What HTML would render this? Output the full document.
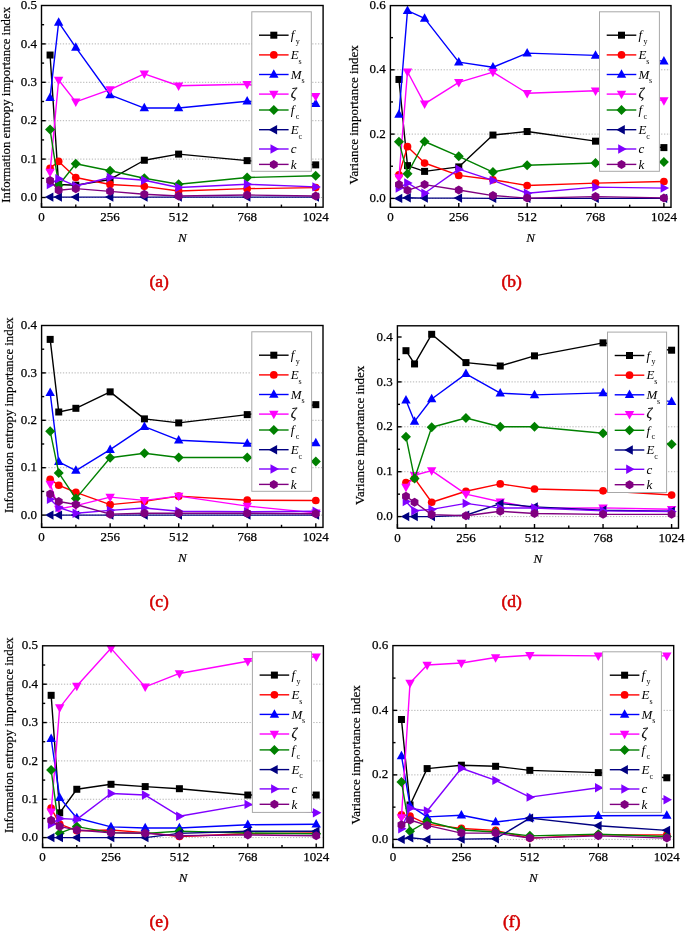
<!DOCTYPE html>
<html><head><meta charset="utf-8"><title>Importance index vs N</title>
<style>
html,body{margin:0;padding:0;background:#fff;}
svg{display:block;filter:blur(0.3px);}
text{font-family:"Liberation Serif",serif;fill:#000;}
.g{stroke:#b4b4b4;stroke-width:1;stroke-dasharray:1.3 1.6;}
.t{stroke:#000;stroke-width:1.4;}
.tl{font-size:13px;stroke:#000;stroke-width:0.25px;}
.xt{font-size:13px;font-style:italic;stroke:#000;stroke-width:0.2px;}
.yt{font-size:13px;stroke:#000;stroke-width:0.2px;}
.yi{font-size:12.8px;}
.lg{font-size:13px;font-style:italic;}
.lz{font-size:14px;font-style:italic;stroke:#000;stroke-width:0.2px;}
.ls{font-size:8px;}
.cap{font-size:17.5px;fill:#d40000;stroke:#d40000;stroke-width:0.55px;}
</style></head>
<body>
<svg width="685" height="932" viewBox="0 0 685 932">
<rect width="685" height="932" fill="#fff"/>
<line x1="42.5" y1="197.5" x2="322.1" y2="197.5" class="g"/>
<line x1="42.5" y1="159.1" x2="322.1" y2="159.1" class="g"/>
<line x1="42.5" y1="120.7" x2="322.1" y2="120.7" class="g"/>
<line x1="42.5" y1="82.3" x2="322.1" y2="82.3" class="g"/>
<line x1="42.5" y1="43.9" x2="322.1" y2="43.9" class="g"/>
<polyline points="50.07,55.04 58.64,184.44 75.78,185.21 110.05,179.45 144.32,160.25 178.6,154.11 247.15,160.64 315.7,164.86" fill="none" stroke="#000000" stroke-width="1.4" stroke-linejoin="round"/>
<rect x="46.57" y="51.54" width="7" height="7" fill="#000000"/>
<rect x="55.14" y="180.94" width="7" height="7" fill="#000000"/>
<rect x="72.28" y="181.71" width="7" height="7" fill="#000000"/>
<rect x="106.55" y="175.95" width="7" height="7" fill="#000000"/>
<rect x="140.82" y="156.75" width="7" height="7" fill="#000000"/>
<rect x="175.1" y="150.61" width="7" height="7" fill="#000000"/>
<rect x="243.65" y="157.14" width="7" height="7" fill="#000000"/>
<rect x="312.2" y="161.36" width="7" height="7" fill="#000000"/>
<polyline points="50.07,168.32 58.64,161.4 75.78,177.53 110.05,184.44 144.32,186.36 178.6,190.97 247.15,188.67 315.7,187.59" fill="none" stroke="#ff0000" stroke-width="1.4" stroke-linejoin="round"/>
<circle cx="50.07" cy="168.32" r="3.85" fill="#ff0000"/>
<circle cx="58.64" cy="161.4" r="3.85" fill="#ff0000"/>
<circle cx="75.78" cy="177.53" r="3.85" fill="#ff0000"/>
<circle cx="110.05" cy="184.44" r="3.85" fill="#ff0000"/>
<circle cx="144.32" cy="186.36" r="3.85" fill="#ff0000"/>
<circle cx="178.6" cy="190.97" r="3.85" fill="#ff0000"/>
<circle cx="247.15" cy="188.67" r="3.85" fill="#ff0000"/>
<circle cx="315.7" cy="187.59" r="3.85" fill="#ff0000"/>
<polyline points="50.07,97.66 58.64,22.4 75.78,47.36 110.05,94.97 144.32,108.03 178.6,108.03 247.15,101.31 315.7,103.8" fill="none" stroke="#0000ff" stroke-width="1.4" stroke-linejoin="round"/>
<polygon points="50.07,92.46 54.77,100.96 45.37,100.96" fill="#0000ff"/>
<polygon points="58.64,17.2 63.34,25.7 53.94,25.7" fill="#0000ff"/>
<polygon points="75.78,42.16 80.48,50.66 71.08,50.66" fill="#0000ff"/>
<polygon points="110.05,89.77 114.75,98.27 105.35,98.27" fill="#0000ff"/>
<polygon points="144.32,102.83 149.02,111.33 139.62,111.33" fill="#0000ff"/>
<polygon points="178.6,102.83 183.3,111.33 173.9,111.33" fill="#0000ff"/>
<polygon points="247.15,96.11 251.85,104.61 242.45,104.61" fill="#0000ff"/>
<polygon points="315.7,98.6 320.4,107.1 311,107.1" fill="#0000ff"/>
<polyline points="50.07,172.16 58.64,80 75.78,101.88 110.05,89.6 144.32,73.85 178.6,85.76 247.15,84.22 315.7,96.32" fill="none" stroke="#ff00ff" stroke-width="1.4" stroke-linejoin="round"/>
<polygon points="50.07,177.36 54.77,168.86 45.37,168.86" fill="#ff00ff"/>
<polygon points="58.64,85.2 63.34,76.7 53.94,76.7" fill="#ff00ff"/>
<polygon points="75.78,107.08 80.48,98.58 71.08,98.58" fill="#ff00ff"/>
<polygon points="110.05,94.8 114.75,86.3 105.35,86.3" fill="#ff00ff"/>
<polygon points="144.32,79.05 149.02,70.55 139.62,70.55" fill="#ff00ff"/>
<polygon points="178.6,90.96 183.3,82.46 173.9,82.46" fill="#ff00ff"/>
<polygon points="247.15,89.42 251.85,80.92 242.45,80.92" fill="#ff00ff"/>
<polygon points="315.7,101.52 320.4,93.02 311,93.02" fill="#ff00ff"/>
<polyline points="50.07,129.53 58.64,185.21 75.78,163.71 110.05,170.81 144.32,178.3 178.6,184.21 247.15,177.53 315.7,175.8" fill="none" stroke="#008000" stroke-width="1.4" stroke-linejoin="round"/>
<polygon points="50.07,124.53 55.07,129.53 50.07,134.53 45.07,129.53" fill="#008000"/>
<polygon points="58.64,180.21 63.64,185.21 58.64,190.21 53.64,185.21" fill="#008000"/>
<polygon points="75.78,158.71 80.78,163.71 75.78,168.71 70.78,163.71" fill="#008000"/>
<polygon points="110.05,165.81 115.05,170.81 110.05,175.81 105.05,170.81" fill="#008000"/>
<polygon points="144.32,173.3 149.32,178.3 144.32,183.3 139.32,178.3" fill="#008000"/>
<polygon points="178.6,179.21 183.6,184.21 178.6,189.21 173.6,184.21" fill="#008000"/>
<polygon points="247.15,172.53 252.15,177.53 247.15,182.53 242.15,177.53" fill="#008000"/>
<polygon points="315.7,170.8 320.7,175.8 315.7,180.8 310.7,175.8" fill="#008000"/>
<polyline points="50.07,197.12 58.64,197.12 75.78,197.12 110.05,197.12 144.32,197.12 178.6,197.12 247.15,197.12 315.7,197.12" fill="none" stroke="#000080" stroke-width="1.4" stroke-linejoin="round"/>
<polygon points="44.87,197.12 53.37,192.42 53.37,201.82" fill="#000080"/>
<polygon points="53.44,197.12 61.94,192.42 61.94,201.82" fill="#000080"/>
<polygon points="70.58,197.12 79.08,192.42 79.08,201.82" fill="#000080"/>
<polygon points="104.85,197.12 113.35,192.42 113.35,201.82" fill="#000080"/>
<polygon points="139.12,197.12 147.62,192.42 147.62,201.82" fill="#000080"/>
<polygon points="173.4,197.12 181.9,192.42 181.9,201.82" fill="#000080"/>
<polygon points="241.95,197.12 250.45,192.42 250.45,201.82" fill="#000080"/>
<polygon points="310.5,197.12 319,192.42 319,201.82" fill="#000080"/>
<polyline points="50.07,184.44 58.64,178.68 75.78,185.98 110.05,177.53 144.32,180.22 178.6,187.52 247.15,184.21 315.7,186.9" fill="none" stroke="#8000ff" stroke-width="1.4" stroke-linejoin="round"/>
<polygon points="55.27,184.44 46.77,179.74 46.77,189.14" fill="#8000ff"/>
<polygon points="63.84,178.68 55.34,173.98 55.34,183.38" fill="#8000ff"/>
<polygon points="80.98,185.98 72.48,181.28 72.48,190.68" fill="#8000ff"/>
<polygon points="115.25,177.53 106.75,172.83 106.75,182.23" fill="#8000ff"/>
<polygon points="149.52,180.22 141.02,175.52 141.02,184.92" fill="#8000ff"/>
<polygon points="183.8,187.52 175.3,182.82 175.3,192.22" fill="#8000ff"/>
<polygon points="252.35,184.21 243.85,179.51 243.85,188.91" fill="#8000ff"/>
<polygon points="320.9,186.9 312.4,182.2 312.4,191.6" fill="#8000ff"/>
<polyline points="50.07,180.6 58.64,190.2 75.78,188.67 110.05,191.36 144.32,194.24 178.6,195.96 247.15,195 315.7,195.96" fill="none" stroke="#800080" stroke-width="1.4" stroke-linejoin="round"/>
<polygon points="50.07,176.1 53.97,178.35 53.97,182.85 50.07,185.1 46.17,182.85 46.17,178.35" fill="#800080"/>
<polygon points="58.64,185.7 62.53,187.95 62.53,192.45 58.64,194.7 54.74,192.45 54.74,187.95" fill="#800080"/>
<polygon points="75.78,184.17 79.67,186.42 79.67,190.92 75.78,193.17 71.88,190.92 71.88,186.42" fill="#800080"/>
<polygon points="110.05,186.86 113.95,189.11 113.95,193.61 110.05,195.86 106.15,193.61 106.15,189.11" fill="#800080"/>
<polygon points="144.32,189.74 148.22,191.99 148.22,196.49 144.32,198.74 140.43,196.49 140.43,191.99" fill="#800080"/>
<polygon points="178.6,191.46 182.5,193.71 182.5,198.21 178.6,200.46 174.7,198.21 174.7,193.71" fill="#800080"/>
<polygon points="247.15,190.5 251.05,192.75 251.05,197.25 247.15,199.5 243.25,197.25 243.25,192.75" fill="#800080"/>
<polygon points="315.7,191.46 319.6,193.71 319.6,198.21 315.7,200.46 311.8,198.21 311.8,193.71" fill="#800080"/>
<rect x="41.5" y="5.5" width="281.6" height="201.7" fill="none" stroke="#000" stroke-width="1.4"/>
<line x1="41.5" y1="197.5" x2="45.7" y2="197.5" class="t"/>
<text x="36.9" y="201.1" class="tl" text-anchor="end">0.0</text>
<line x1="41.5" y1="178.3" x2="44.1" y2="178.3" class="t"/>
<line x1="41.5" y1="159.1" x2="45.7" y2="159.1" class="t"/>
<text x="36.9" y="162.7" class="tl" text-anchor="end">0.1</text>
<line x1="41.5" y1="139.9" x2="44.1" y2="139.9" class="t"/>
<line x1="41.5" y1="120.7" x2="45.7" y2="120.7" class="t"/>
<text x="36.9" y="124.3" class="tl" text-anchor="end">0.2</text>
<line x1="41.5" y1="101.5" x2="44.1" y2="101.5" class="t"/>
<line x1="41.5" y1="82.3" x2="45.7" y2="82.3" class="t"/>
<text x="36.9" y="85.9" class="tl" text-anchor="end">0.3</text>
<line x1="41.5" y1="63.1" x2="44.1" y2="63.1" class="t"/>
<line x1="41.5" y1="43.9" x2="45.7" y2="43.9" class="t"/>
<text x="36.9" y="47.5" class="tl" text-anchor="end">0.4</text>
<line x1="41.5" y1="24.7" x2="44.1" y2="24.7" class="t"/>
<text x="36.9" y="9.1" class="tl" text-anchor="end">0.5</text>
<line x1="41.5" y1="207.2" x2="41.5" y2="203" class="t"/>
<text x="41.5" y="221" class="tl" text-anchor="middle">0</text>
<line x1="75.78" y1="207.2" x2="75.78" y2="204.6" class="t"/>
<line x1="110.05" y1="207.2" x2="110.05" y2="203" class="t"/>
<text x="110.05" y="221" class="tl" text-anchor="middle">256</text>
<line x1="144.32" y1="207.2" x2="144.32" y2="204.6" class="t"/>
<line x1="178.6" y1="207.2" x2="178.6" y2="203" class="t"/>
<text x="178.6" y="221" class="tl" text-anchor="middle">512</text>
<line x1="212.88" y1="207.2" x2="212.88" y2="204.6" class="t"/>
<line x1="247.15" y1="207.2" x2="247.15" y2="203" class="t"/>
<text x="247.15" y="221" class="tl" text-anchor="middle">768</text>
<line x1="281.42" y1="207.2" x2="281.42" y2="204.6" class="t"/>
<line x1="315.7" y1="207.2" x2="315.7" y2="203" class="t"/>
<text x="315.7" y="221" class="tl" text-anchor="middle">1024</text>
<text x="182.3" y="241.9" class="xt" text-anchor="middle">N</text>
<text transform="translate(10,104.85) rotate(-90)" class="yt yi" text-anchor="middle">Information entropy importance index</text>
<rect x="251.8" y="11.8" width="59.5" height="159.5" fill="#fff" stroke="#a8a8a8" stroke-width="1"/>
<line x1="259" y1="35.2" x2="288.6" y2="35.2" stroke="#000000" stroke-width="1.4"/>
<rect x="270.3" y="31.7" width="7" height="7" fill="#000000"/>
<text x="290.8" y="39.4" class="lg">f</text>
<text x="295.8" y="44" class="ls">y</text>
<line x1="259" y1="54.9" x2="288.6" y2="54.9" stroke="#ff0000" stroke-width="1.4"/>
<circle cx="273.8" cy="54.9" r="3.85" fill="#ff0000"/>
<text x="290.8" y="59.1" class="lg">E</text>
<text x="298.6" y="63.7" class="ls">s</text>
<line x1="259" y1="74.5" x2="288.6" y2="74.5" stroke="#0000ff" stroke-width="1.4"/>
<polygon points="273.8,69.3 278.5,77.8 269.1,77.8" fill="#0000ff"/>
<text x="290.8" y="78.7" class="lg">M</text>
<text x="301.4" y="83.3" class="ls">s</text>
<line x1="259" y1="94.1" x2="288.6" y2="94.1" stroke="#ff00ff" stroke-width="1.4"/>
<polygon points="273.8,99.3 278.5,90.8 269.1,90.8" fill="#ff00ff"/>
<text x="290.8" y="97.7" class="lz">ζ</text>
<line x1="259" y1="110" x2="288.6" y2="110" stroke="#008000" stroke-width="1.4"/>
<polygon points="273.8,105 278.8,110 273.8,115 268.8,110" fill="#008000"/>
<text x="290.8" y="114.2" class="lg">f</text>
<text x="295.8" y="118.8" class="ls">c</text>
<line x1="259" y1="129.7" x2="288.6" y2="129.7" stroke="#000080" stroke-width="1.4"/>
<polygon points="268.6,129.7 277.1,125 277.1,134.4" fill="#000080"/>
<text x="290.8" y="133.9" class="lg">E</text>
<text x="298.6" y="138.5" class="ls">c</text>
<line x1="259" y1="149" x2="288.6" y2="149" stroke="#8000ff" stroke-width="1.4"/>
<polygon points="279,149 270.5,144.3 270.5,153.7" fill="#8000ff"/>
<text x="290.8" y="153.2" class="lg">c</text>
<line x1="259" y1="164.4" x2="288.6" y2="164.4" stroke="#800080" stroke-width="1.4"/>
<polygon points="273.8,159.9 277.7,162.15 277.7,166.65 273.8,168.9 269.9,166.65 269.9,162.15" fill="#800080"/>
<text x="290.8" y="168.6" class="lg">k</text>
<text x="159.1" y="287" class="cap" text-anchor="middle">(a)</text>
<line x1="391.4" y1="198.4" x2="670" y2="198.4" class="g"/>
<line x1="391.4" y1="134.1" x2="670" y2="134.1" class="g"/>
<line x1="391.4" y1="69.8" x2="670" y2="69.8" class="g"/>
<polyline points="398.95,79.45 407.49,165.61 424.59,171.39 458.77,166.89 492.96,135.06 527.15,131.53 595.52,141.17 663.9,147.6" fill="none" stroke="#000000" stroke-width="1.4" stroke-linejoin="round"/>
<rect x="395.45" y="75.95" width="7" height="7" fill="#000000"/>
<rect x="403.99" y="162.11" width="7" height="7" fill="#000000"/>
<rect x="421.09" y="167.89" width="7" height="7" fill="#000000"/>
<rect x="455.27" y="163.39" width="7" height="7" fill="#000000"/>
<rect x="489.46" y="131.56" width="7" height="7" fill="#000000"/>
<rect x="523.65" y="128.03" width="7" height="7" fill="#000000"/>
<rect x="592.02" y="137.67" width="7" height="7" fill="#000000"/>
<rect x="660.4" y="144.1" width="7" height="7" fill="#000000"/>
<polyline points="398.95,174.93 407.49,146.64 424.59,163.03 458.77,175.38 492.96,179.75 527.15,185.54 595.52,183.1 663.9,181.49" fill="none" stroke="#ff0000" stroke-width="1.4" stroke-linejoin="round"/>
<circle cx="398.95" cy="174.93" r="3.85" fill="#ff0000"/>
<circle cx="407.49" cy="146.64" r="3.85" fill="#ff0000"/>
<circle cx="424.59" cy="163.03" r="3.85" fill="#ff0000"/>
<circle cx="458.77" cy="175.38" r="3.85" fill="#ff0000"/>
<circle cx="492.96" cy="179.75" r="3.85" fill="#ff0000"/>
<circle cx="527.15" cy="185.54" r="3.85" fill="#ff0000"/>
<circle cx="595.52" cy="183.1" r="3.85" fill="#ff0000"/>
<circle cx="663.9" cy="181.49" r="3.85" fill="#ff0000"/>
<polyline points="398.95,114.49 407.49,10.64 424.59,18.36 458.77,62.08 492.96,67.23 527.15,53.08 595.52,55.33 663.9,61.12" fill="none" stroke="#0000ff" stroke-width="1.4" stroke-linejoin="round"/>
<polygon points="398.95,109.29 403.65,117.79 394.25,117.79" fill="#0000ff"/>
<polygon points="407.49,5.44 412.19,13.94 402.79,13.94" fill="#0000ff"/>
<polygon points="424.59,13.16 429.29,21.66 419.89,21.66" fill="#0000ff"/>
<polygon points="458.77,56.88 463.47,65.38 454.07,65.38" fill="#0000ff"/>
<polygon points="492.96,62.03 497.66,70.53 488.26,70.53" fill="#0000ff"/>
<polygon points="527.15,47.88 531.85,56.38 522.45,56.38" fill="#0000ff"/>
<polygon points="595.52,50.13 600.23,58.63 590.82,58.63" fill="#0000ff"/>
<polygon points="663.9,55.92 668.6,64.42 659.2,64.42" fill="#0000ff"/>
<polyline points="398.95,177.5 407.49,71.73 424.59,103.88 458.77,82.34 492.96,72.05 527.15,93.27 595.52,90.7 663.9,100.66" fill="none" stroke="#ff00ff" stroke-width="1.4" stroke-linejoin="round"/>
<polygon points="398.95,182.7 403.65,174.2 394.25,174.2" fill="#ff00ff"/>
<polygon points="407.49,76.93 412.19,68.43 402.79,68.43" fill="#ff00ff"/>
<polygon points="424.59,109.08 429.29,100.58 419.89,100.58" fill="#ff00ff"/>
<polygon points="458.77,87.54 463.47,79.04 454.07,79.04" fill="#ff00ff"/>
<polygon points="492.96,77.25 497.66,68.75 488.26,68.75" fill="#ff00ff"/>
<polygon points="527.15,98.47 531.85,89.97 522.45,89.97" fill="#ff00ff"/>
<polygon points="595.52,95.9 600.23,87.4 590.82,87.4" fill="#ff00ff"/>
<polygon points="663.9,105.86 668.6,97.36 659.2,97.36" fill="#ff00ff"/>
<polyline points="398.95,141.82 407.49,173.64 424.59,141.49 458.77,156.28 492.96,172.04 527.15,165.29 595.52,163.03 663.9,162.07" fill="none" stroke="#008000" stroke-width="1.4" stroke-linejoin="round"/>
<polygon points="398.95,136.82 403.95,141.82 398.95,146.82 393.95,141.82" fill="#008000"/>
<polygon points="407.49,168.64 412.49,173.64 407.49,178.64 402.49,173.64" fill="#008000"/>
<polygon points="424.59,136.49 429.59,141.49 424.59,146.49 419.59,141.49" fill="#008000"/>
<polygon points="458.77,151.28 463.77,156.28 458.77,161.28 453.77,156.28" fill="#008000"/>
<polygon points="492.96,167.04 497.96,172.04 492.96,177.04 487.96,172.04" fill="#008000"/>
<polygon points="527.15,160.29 532.15,165.29 527.15,170.29 522.15,165.29" fill="#008000"/>
<polygon points="595.52,158.03 600.52,163.03 595.52,168.03 590.52,163.03" fill="#008000"/>
<polygon points="663.9,157.07 668.9,162.07 663.9,167.07 658.9,162.07" fill="#008000"/>
<polyline points="398.95,198.4 407.49,197.76 424.59,198.08 458.77,198.08 492.96,198.4 527.15,198.4 595.52,198.4 663.9,198.4" fill="none" stroke="#000080" stroke-width="1.4" stroke-linejoin="round"/>
<polygon points="393.75,198.4 402.25,193.7 402.25,203.1" fill="#000080"/>
<polygon points="402.29,197.76 410.79,193.06 410.79,202.46" fill="#000080"/>
<polygon points="419.39,198.08 427.89,193.38 427.89,202.78" fill="#000080"/>
<polygon points="453.57,198.08 462.07,193.38 462.07,202.78" fill="#000080"/>
<polygon points="487.76,198.4 496.26,193.7 496.26,203.1" fill="#000080"/>
<polygon points="521.95,198.4 530.45,193.7 530.45,203.1" fill="#000080"/>
<polygon points="590.32,198.4 598.82,193.7 598.82,203.1" fill="#000080"/>
<polygon points="658.7,198.4 667.2,193.7 667.2,203.1" fill="#000080"/>
<polyline points="398.95,188.11 407.49,182.97 424.59,193.26 458.77,169.14 492.96,180.4 527.15,193.26 595.52,187.15 663.9,188.11" fill="none" stroke="#8000ff" stroke-width="1.4" stroke-linejoin="round"/>
<polygon points="404.15,188.11 395.65,183.41 395.65,192.81" fill="#8000ff"/>
<polygon points="412.69,182.97 404.19,178.27 404.19,187.67" fill="#8000ff"/>
<polygon points="429.79,193.26 421.29,188.56 421.29,197.96" fill="#8000ff"/>
<polygon points="463.97,169.14 455.47,164.44 455.47,173.84" fill="#8000ff"/>
<polygon points="498.16,180.4 489.66,175.7 489.66,185.1" fill="#8000ff"/>
<polygon points="532.35,193.26 523.85,188.56 523.85,197.96" fill="#8000ff"/>
<polygon points="600.73,187.15 592.23,182.45 592.23,191.85" fill="#8000ff"/>
<polygon points="669.1,188.11 660.6,183.41 660.6,192.81" fill="#8000ff"/>
<polyline points="398.95,184.58 407.49,190.36 424.59,184.58 458.77,190.04 492.96,195.57 527.15,198.08 595.52,196.6 663.9,197.89" fill="none" stroke="#800080" stroke-width="1.4" stroke-linejoin="round"/>
<polygon points="398.95,180.08 402.84,182.33 402.84,186.83 398.95,189.08 395.05,186.83 395.05,182.33" fill="#800080"/>
<polygon points="407.49,185.86 411.39,188.11 411.39,192.61 407.49,194.86 403.6,192.61 403.6,188.11" fill="#800080"/>
<polygon points="424.59,180.08 428.48,182.33 428.48,186.83 424.59,189.08 420.69,186.83 420.69,182.33" fill="#800080"/>
<polygon points="458.77,185.54 462.67,187.79 462.67,192.29 458.77,194.54 454.88,192.29 454.88,187.79" fill="#800080"/>
<polygon points="492.96,191.07 496.86,193.32 496.86,197.82 492.96,200.07 489.07,197.82 489.07,193.32" fill="#800080"/>
<polygon points="527.15,193.58 531.05,195.83 531.05,200.33 527.15,202.58 523.25,200.33 523.25,195.83" fill="#800080"/>
<polygon points="595.52,192.1 599.42,194.35 599.42,198.85 595.52,201.1 591.63,198.85 591.63,194.35" fill="#800080"/>
<polygon points="663.9,193.39 667.8,195.64 667.8,200.14 663.9,202.39 660,200.14 660,195.64" fill="#800080"/>
<rect x="390.4" y="5.6" width="280.6" height="201.7" fill="none" stroke="#000" stroke-width="1.4"/>
<line x1="390.4" y1="198.4" x2="394.6" y2="198.4" class="t"/>
<text x="385.8" y="202" class="tl" text-anchor="end">0.0</text>
<line x1="390.4" y1="166.25" x2="393" y2="166.25" class="t"/>
<line x1="390.4" y1="134.1" x2="394.6" y2="134.1" class="t"/>
<text x="385.8" y="137.7" class="tl" text-anchor="end">0.2</text>
<line x1="390.4" y1="101.95" x2="393" y2="101.95" class="t"/>
<line x1="390.4" y1="69.8" x2="394.6" y2="69.8" class="t"/>
<text x="385.8" y="73.4" class="tl" text-anchor="end">0.4</text>
<line x1="390.4" y1="37.65" x2="393" y2="37.65" class="t"/>
<text x="385.8" y="9.1" class="tl" text-anchor="end">0.6</text>
<line x1="390.4" y1="207.3" x2="390.4" y2="203.1" class="t"/>
<text x="390.4" y="221.1" class="tl" text-anchor="middle">0</text>
<line x1="424.59" y1="207.3" x2="424.59" y2="204.7" class="t"/>
<line x1="458.77" y1="207.3" x2="458.77" y2="203.1" class="t"/>
<text x="458.77" y="221.1" class="tl" text-anchor="middle">256</text>
<line x1="492.96" y1="207.3" x2="492.96" y2="204.7" class="t"/>
<line x1="527.15" y1="207.3" x2="527.15" y2="203.1" class="t"/>
<text x="527.15" y="221.1" class="tl" text-anchor="middle">512</text>
<line x1="561.34" y1="207.3" x2="561.34" y2="204.7" class="t"/>
<line x1="595.52" y1="207.3" x2="595.52" y2="203.1" class="t"/>
<text x="595.52" y="221.1" class="tl" text-anchor="middle">768</text>
<line x1="629.71" y1="207.3" x2="629.71" y2="204.7" class="t"/>
<line x1="663.9" y1="207.3" x2="663.9" y2="203.1" class="t"/>
<text x="663.9" y="221.1" class="tl" text-anchor="middle">1024</text>
<text x="530.7" y="242" class="xt" text-anchor="middle">N</text>
<text transform="translate(358,114.85) rotate(-90)" class="yt" text-anchor="middle">Variance importance index</text>
<rect x="599.5" y="11.8" width="59.9" height="159.5" fill="#fff" stroke="#a8a8a8" stroke-width="1"/>
<line x1="606.7" y1="35.2" x2="636.3" y2="35.2" stroke="#000000" stroke-width="1.4"/>
<rect x="618" y="31.7" width="7" height="7" fill="#000000"/>
<text x="638.5" y="39.4" class="lg">f</text>
<text x="643.5" y="44" class="ls">y</text>
<line x1="606.7" y1="54.9" x2="636.3" y2="54.9" stroke="#ff0000" stroke-width="1.4"/>
<circle cx="621.5" cy="54.9" r="3.85" fill="#ff0000"/>
<text x="638.5" y="59.1" class="lg">E</text>
<text x="646.3" y="63.7" class="ls">s</text>
<line x1="606.7" y1="74.5" x2="636.3" y2="74.5" stroke="#0000ff" stroke-width="1.4"/>
<polygon points="621.5,69.3 626.2,77.8 616.8,77.8" fill="#0000ff"/>
<text x="638.5" y="78.7" class="lg">M</text>
<text x="649.1" y="83.3" class="ls">s</text>
<line x1="606.7" y1="94.1" x2="636.3" y2="94.1" stroke="#ff00ff" stroke-width="1.4"/>
<polygon points="621.5,99.3 626.2,90.8 616.8,90.8" fill="#ff00ff"/>
<text x="638.5" y="97.7" class="lz">ζ</text>
<line x1="606.7" y1="110" x2="636.3" y2="110" stroke="#008000" stroke-width="1.4"/>
<polygon points="621.5,105 626.5,110 621.5,115 616.5,110" fill="#008000"/>
<text x="638.5" y="114.2" class="lg">f</text>
<text x="643.5" y="118.8" class="ls">c</text>
<line x1="606.7" y1="129.7" x2="636.3" y2="129.7" stroke="#000080" stroke-width="1.4"/>
<polygon points="616.3,129.7 624.8,125 624.8,134.4" fill="#000080"/>
<text x="638.5" y="133.9" class="lg">E</text>
<text x="646.3" y="138.5" class="ls">c</text>
<line x1="606.7" y1="149" x2="636.3" y2="149" stroke="#8000ff" stroke-width="1.4"/>
<polygon points="626.7,149 618.2,144.3 618.2,153.7" fill="#8000ff"/>
<text x="638.5" y="153.2" class="lg">c</text>
<line x1="606.7" y1="164.4" x2="636.3" y2="164.4" stroke="#800080" stroke-width="1.4"/>
<polygon points="621.5,159.9 625.4,162.15 625.4,166.65 621.5,168.9 617.6,166.65 617.6,162.15" fill="#800080"/>
<text x="638.5" y="168.6" class="lg">k</text>
<text x="511.6" y="287" class="cap" text-anchor="middle">(b)</text>
<line x1="42.6" y1="515.1" x2="322" y2="515.1" class="g"/>
<line x1="42.6" y1="467.7" x2="322" y2="467.7" class="g"/>
<line x1="42.6" y1="420.3" x2="322" y2="420.3" class="g"/>
<line x1="42.6" y1="372.9" x2="322" y2="372.9" class="g"/>
<polyline points="50.17,339.39 58.74,412 75.88,408.31 110.15,391.86 144.42,418.88 178.7,422.91 247.25,414.61 315.8,404.66" fill="none" stroke="#000000" stroke-width="1.4" stroke-linejoin="round"/>
<rect x="46.67" y="335.89" width="7" height="7" fill="#000000"/>
<rect x="55.24" y="408.5" width="7" height="7" fill="#000000"/>
<rect x="72.38" y="404.81" width="7" height="7" fill="#000000"/>
<rect x="106.65" y="388.36" width="7" height="7" fill="#000000"/>
<rect x="140.92" y="415.38" width="7" height="7" fill="#000000"/>
<rect x="175.2" y="419.41" width="7" height="7" fill="#000000"/>
<rect x="243.75" y="411.11" width="7" height="7" fill="#000000"/>
<rect x="312.3" y="401.16" width="7" height="7" fill="#000000"/>
<polyline points="50.17,479.31 58.74,485.24 75.88,492.35 110.15,504.67 144.42,501.35 178.7,496.14 247.25,500.22 315.8,500.5" fill="none" stroke="#ff0000" stroke-width="1.4" stroke-linejoin="round"/>
<circle cx="50.17" cy="479.31" r="3.85" fill="#ff0000"/>
<circle cx="58.74" cy="485.24" r="3.85" fill="#ff0000"/>
<circle cx="75.88" cy="492.35" r="3.85" fill="#ff0000"/>
<circle cx="110.15" cy="504.67" r="3.85" fill="#ff0000"/>
<circle cx="144.42" cy="501.35" r="3.85" fill="#ff0000"/>
<circle cx="178.7" cy="496.14" r="3.85" fill="#ff0000"/>
<circle cx="247.25" cy="500.22" r="3.85" fill="#ff0000"/>
<circle cx="315.8" cy="500.5" r="3.85" fill="#ff0000"/>
<polyline points="50.17,392.81 58.74,461.82 75.88,470.54 110.15,449.69 144.42,426.6 178.7,440.21 247.25,443.53 315.8,443.05" fill="none" stroke="#0000ff" stroke-width="1.4" stroke-linejoin="round"/>
<polygon points="50.17,387.61 54.87,396.11 45.47,396.11" fill="#0000ff"/>
<polygon points="58.74,456.62 63.44,465.12 54.04,465.12" fill="#0000ff"/>
<polygon points="75.88,465.34 80.58,473.84 71.17,473.84" fill="#0000ff"/>
<polygon points="110.15,444.49 114.85,452.99 105.45,452.99" fill="#0000ff"/>
<polygon points="144.42,421.4 149.12,429.9 139.72,429.9" fill="#0000ff"/>
<polygon points="178.7,435.01 183.4,443.51 174,443.51" fill="#0000ff"/>
<polygon points="247.25,438.33 251.95,446.83 242.55,446.83" fill="#0000ff"/>
<polygon points="315.8,437.85 320.5,446.35 311.1,446.35" fill="#0000ff"/>
<polyline points="50.17,484.01 58.74,508.94 75.88,505.62 110.15,497.09 144.42,500.41 178.7,496.14 247.25,506.09 315.8,512.92" fill="none" stroke="#ff00ff" stroke-width="1.4" stroke-linejoin="round"/>
<polygon points="50.17,489.21 54.87,480.71 45.47,480.71" fill="#ff00ff"/>
<polygon points="58.74,514.14 63.44,505.64 54.04,505.64" fill="#ff00ff"/>
<polygon points="75.88,510.82 80.58,502.32 71.17,502.32" fill="#ff00ff"/>
<polygon points="110.15,502.29 114.85,493.79 105.45,493.79" fill="#ff00ff"/>
<polygon points="144.42,505.61 149.12,497.11 139.72,497.11" fill="#ff00ff"/>
<polygon points="178.7,501.34 183.4,492.84 174,492.84" fill="#ff00ff"/>
<polygon points="247.25,511.29 251.95,502.79 242.55,502.79" fill="#ff00ff"/>
<polygon points="315.8,518.12 320.5,509.62 311.1,509.62" fill="#ff00ff"/>
<polyline points="50.17,431.2 58.74,472.91 75.88,498.6 110.15,457.75 144.42,453.2 178.7,457.51 247.25,457.51 315.8,461.54" fill="none" stroke="#008000" stroke-width="1.4" stroke-linejoin="round"/>
<polygon points="50.17,426.2 55.17,431.2 50.17,436.2 45.17,431.2" fill="#008000"/>
<polygon points="58.74,467.91 63.74,472.91 58.74,477.91 53.74,472.91" fill="#008000"/>
<polygon points="75.88,493.6 80.88,498.6 75.88,503.6 70.88,498.6" fill="#008000"/>
<polygon points="110.15,452.75 115.15,457.75 110.15,462.75 105.15,457.75" fill="#008000"/>
<polygon points="144.42,448.2 149.42,453.2 144.42,458.2 139.42,453.2" fill="#008000"/>
<polygon points="178.7,452.51 183.7,457.51 178.7,462.51 173.7,457.51" fill="#008000"/>
<polygon points="247.25,452.51 252.25,457.51 247.25,462.51 242.25,457.51" fill="#008000"/>
<polygon points="315.8,456.54 320.8,461.54 315.8,466.54 310.8,461.54" fill="#008000"/>
<polyline points="50.17,515.1 58.74,515.1 75.88,515.1 110.15,515.1 144.42,515.1 178.7,515.1 247.25,515.1 315.8,515.1" fill="none" stroke="#000080" stroke-width="1.4" stroke-linejoin="round"/>
<polygon points="44.97,515.1 53.47,510.4 53.47,519.8" fill="#000080"/>
<polygon points="53.54,515.1 62.04,510.4 62.04,519.8" fill="#000080"/>
<polygon points="70.67,515.1 79.17,510.4 79.17,519.8" fill="#000080"/>
<polygon points="104.95,515.1 113.45,510.4 113.45,519.8" fill="#000080"/>
<polygon points="139.22,515.1 147.72,510.4 147.72,519.8" fill="#000080"/>
<polygon points="173.5,515.1 182,510.4 182,519.8" fill="#000080"/>
<polygon points="242.05,515.1 250.55,510.4 250.55,519.8" fill="#000080"/>
<polygon points="310.6,515.1 319.1,510.4 319.1,519.8" fill="#000080"/>
<polyline points="50.17,499.22 58.74,507.52 75.88,513.2 110.15,510.36 144.42,507.99 178.7,511.31 247.25,511.78 315.8,511.31" fill="none" stroke="#8000ff" stroke-width="1.4" stroke-linejoin="round"/>
<polygon points="55.37,499.22 46.87,494.52 46.87,503.92" fill="#8000ff"/>
<polygon points="63.94,507.52 55.44,502.82 55.44,512.22" fill="#8000ff"/>
<polygon points="81.08,513.2 72.58,508.5 72.58,517.9" fill="#8000ff"/>
<polygon points="115.35,510.36 106.85,505.66 106.85,515.06" fill="#8000ff"/>
<polygon points="149.62,507.99 141.12,503.29 141.12,512.69" fill="#8000ff"/>
<polygon points="183.9,511.31 175.4,506.61 175.4,516.01" fill="#8000ff"/>
<polygon points="252.45,511.78 243.95,507.08 243.95,516.48" fill="#8000ff"/>
<polygon points="321,511.31 312.5,506.61 312.5,516.01" fill="#8000ff"/>
<polyline points="50.17,494.01 58.74,501.5 75.88,504.48 110.15,514.15 144.42,513.2 178.7,513.2 247.25,513.2 315.8,513.68" fill="none" stroke="#800080" stroke-width="1.4" stroke-linejoin="round"/>
<polygon points="50.17,489.51 54.07,491.76 54.07,496.26 50.17,498.51 46.27,496.26 46.27,491.76" fill="#800080"/>
<polygon points="58.74,497 62.63,499.25 62.63,503.75 58.74,506 54.84,503.75 54.84,499.25" fill="#800080"/>
<polygon points="75.88,499.98 79.77,502.23 79.77,506.73 75.88,508.98 71.98,506.73 71.98,502.23" fill="#800080"/>
<polygon points="110.15,509.65 114.05,511.9 114.05,516.4 110.15,518.65 106.25,516.4 106.25,511.9" fill="#800080"/>
<polygon points="144.42,508.7 148.32,510.95 148.32,515.45 144.42,517.7 140.53,515.45 140.53,510.95" fill="#800080"/>
<polygon points="178.7,508.7 182.6,510.95 182.6,515.45 178.7,517.7 174.8,515.45 174.8,510.95" fill="#800080"/>
<polygon points="247.25,508.7 251.15,510.95 251.15,515.45 247.25,517.7 243.35,515.45 243.35,510.95" fill="#800080"/>
<polygon points="315.8,509.18 319.7,511.43 319.7,515.93 315.8,518.18 311.9,515.93 311.9,511.43" fill="#800080"/>
<rect x="41.6" y="325.5" width="281.4" height="201.9" fill="none" stroke="#000" stroke-width="1.4"/>
<line x1="41.6" y1="515.1" x2="45.8" y2="515.1" class="t"/>
<text x="37" y="518.7" class="tl" text-anchor="end">0.0</text>
<line x1="41.6" y1="491.4" x2="44.2" y2="491.4" class="t"/>
<line x1="41.6" y1="467.7" x2="45.8" y2="467.7" class="t"/>
<text x="37" y="471.3" class="tl" text-anchor="end">0.1</text>
<line x1="41.6" y1="444" x2="44.2" y2="444" class="t"/>
<line x1="41.6" y1="420.3" x2="45.8" y2="420.3" class="t"/>
<text x="37" y="423.9" class="tl" text-anchor="end">0.2</text>
<line x1="41.6" y1="396.6" x2="44.2" y2="396.6" class="t"/>
<line x1="41.6" y1="372.9" x2="45.8" y2="372.9" class="t"/>
<text x="37" y="376.5" class="tl" text-anchor="end">0.3</text>
<line x1="41.6" y1="349.2" x2="44.2" y2="349.2" class="t"/>
<text x="37" y="329.1" class="tl" text-anchor="end">0.4</text>
<line x1="41.6" y1="527.4" x2="41.6" y2="523.2" class="t"/>
<text x="41.6" y="541.2" class="tl" text-anchor="middle">0</text>
<line x1="75.88" y1="527.4" x2="75.88" y2="524.8" class="t"/>
<line x1="110.15" y1="527.4" x2="110.15" y2="523.2" class="t"/>
<text x="110.15" y="541.2" class="tl" text-anchor="middle">256</text>
<line x1="144.42" y1="527.4" x2="144.42" y2="524.8" class="t"/>
<line x1="178.7" y1="527.4" x2="178.7" y2="523.2" class="t"/>
<text x="178.7" y="541.2" class="tl" text-anchor="middle">512</text>
<line x1="212.97" y1="527.4" x2="212.97" y2="524.8" class="t"/>
<line x1="247.25" y1="527.4" x2="247.25" y2="523.2" class="t"/>
<text x="247.25" y="541.2" class="tl" text-anchor="middle">768</text>
<line x1="281.52" y1="527.4" x2="281.52" y2="524.8" class="t"/>
<line x1="315.8" y1="527.4" x2="315.8" y2="523.2" class="t"/>
<text x="315.8" y="541.2" class="tl" text-anchor="middle">1024</text>
<text x="182.3" y="562.1" class="xt" text-anchor="middle">N</text>
<text transform="translate(13.3,415.15) rotate(-90)" class="yt yi" text-anchor="middle">Information entropy importance index</text>
<rect x="251.8" y="331.8" width="59.8" height="159.5" fill="#fff" stroke="#a8a8a8" stroke-width="1"/>
<line x1="259" y1="355.2" x2="288.6" y2="355.2" stroke="#000000" stroke-width="1.4"/>
<rect x="270.3" y="351.7" width="7" height="7" fill="#000000"/>
<text x="290.8" y="359.4" class="lg">f</text>
<text x="295.8" y="364" class="ls">y</text>
<line x1="259" y1="374.9" x2="288.6" y2="374.9" stroke="#ff0000" stroke-width="1.4"/>
<circle cx="273.8" cy="374.9" r="3.85" fill="#ff0000"/>
<text x="290.8" y="379.1" class="lg">E</text>
<text x="298.6" y="383.7" class="ls">s</text>
<line x1="259" y1="394.5" x2="288.6" y2="394.5" stroke="#0000ff" stroke-width="1.4"/>
<polygon points="273.8,389.3 278.5,397.8 269.1,397.8" fill="#0000ff"/>
<text x="290.8" y="398.7" class="lg">M</text>
<text x="301.4" y="403.3" class="ls">s</text>
<line x1="259" y1="414.1" x2="288.6" y2="414.1" stroke="#ff00ff" stroke-width="1.4"/>
<polygon points="273.8,419.3 278.5,410.8 269.1,410.8" fill="#ff00ff"/>
<text x="290.8" y="417.7" class="lz">ζ</text>
<line x1="259" y1="430" x2="288.6" y2="430" stroke="#008000" stroke-width="1.4"/>
<polygon points="273.8,425 278.8,430 273.8,435 268.8,430" fill="#008000"/>
<text x="290.8" y="434.2" class="lg">f</text>
<text x="295.8" y="438.8" class="ls">c</text>
<line x1="259" y1="449.7" x2="288.6" y2="449.7" stroke="#000080" stroke-width="1.4"/>
<polygon points="268.6,449.7 277.1,445 277.1,454.4" fill="#000080"/>
<text x="290.8" y="453.9" class="lg">E</text>
<text x="298.6" y="458.5" class="ls">c</text>
<line x1="259" y1="469" x2="288.6" y2="469" stroke="#8000ff" stroke-width="1.4"/>
<polygon points="279,469 270.5,464.3 270.5,473.7" fill="#8000ff"/>
<text x="290.8" y="473.2" class="lg">c</text>
<line x1="259" y1="484.4" x2="288.6" y2="484.4" stroke="#800080" stroke-width="1.4"/>
<polygon points="273.8,479.9 277.7,482.15 277.7,486.65 273.8,488.9 269.9,486.65 269.9,482.15" fill="#800080"/>
<text x="290.8" y="488.6" class="lg">k</text>
<text x="159.1" y="607" class="cap" text-anchor="middle">(c)</text>
<line x1="398.4" y1="516.6" x2="677.5" y2="516.6" class="g"/>
<line x1="398.4" y1="471.7" x2="677.5" y2="471.7" class="g"/>
<line x1="398.4" y1="426.8" x2="677.5" y2="426.8" class="g"/>
<line x1="398.4" y1="381.9" x2="677.5" y2="381.9" class="g"/>
<polyline points="405.97,350.69 414.54,363.94 431.67,334.31 465.95,362.59 500.23,366.01 534.5,355.86 603.05,342.84 671.6,350.2" fill="none" stroke="#000000" stroke-width="1.4" stroke-linejoin="round"/>
<rect x="402.47" y="347.19" width="7" height="7" fill="#000000"/>
<rect x="411.04" y="360.44" width="7" height="7" fill="#000000"/>
<rect x="428.17" y="330.81" width="7" height="7" fill="#000000"/>
<rect x="462.45" y="359.09" width="7" height="7" fill="#000000"/>
<rect x="496.73" y="362.51" width="7" height="7" fill="#000000"/>
<rect x="531" y="352.36" width="7" height="7" fill="#000000"/>
<rect x="599.55" y="339.34" width="7" height="7" fill="#000000"/>
<rect x="668.1" y="346.7" width="7" height="7" fill="#000000"/>
<polyline points="405.97,482.48 414.54,478.44 431.67,502.23 465.95,491.23 500.23,483.91 534.5,488.99 603.05,490.78 671.6,495.05" fill="none" stroke="#ff0000" stroke-width="1.4" stroke-linejoin="round"/>
<circle cx="405.97" cy="482.48" r="3.85" fill="#ff0000"/>
<circle cx="414.54" cy="478.44" r="3.85" fill="#ff0000"/>
<circle cx="431.67" cy="502.23" r="3.85" fill="#ff0000"/>
<circle cx="465.95" cy="491.23" r="3.85" fill="#ff0000"/>
<circle cx="500.23" cy="483.91" r="3.85" fill="#ff0000"/>
<circle cx="534.5" cy="488.99" r="3.85" fill="#ff0000"/>
<circle cx="603.05" cy="490.78" r="3.85" fill="#ff0000"/>
<circle cx="671.6" cy="495.05" r="3.85" fill="#ff0000"/>
<polyline points="405.97,400.31 414.54,421.41 431.67,398.96 465.95,373.82 500.23,393.12 534.5,394.92 603.05,392.9 671.6,401.66" fill="none" stroke="#0000ff" stroke-width="1.4" stroke-linejoin="round"/>
<polygon points="405.97,395.11 410.67,403.61 401.27,403.61" fill="#0000ff"/>
<polygon points="414.54,416.21 419.24,424.71 409.84,424.71" fill="#0000ff"/>
<polygon points="431.67,393.76 436.37,402.26 426.97,402.26" fill="#0000ff"/>
<polygon points="465.95,368.62 470.65,377.12 461.25,377.12" fill="#0000ff"/>
<polygon points="500.23,387.93 504.93,396.43 495.53,396.43" fill="#0000ff"/>
<polygon points="534.5,389.72 539.2,398.22 529.8,398.22" fill="#0000ff"/>
<polygon points="603.05,387.7 607.75,396.2 598.35,396.2" fill="#0000ff"/>
<polygon points="671.6,396.46 676.3,404.96 666.9,404.96" fill="#0000ff"/>
<polyline points="405.97,486.97 414.54,475.29 431.67,470.58 465.95,494.15 500.23,501.78 534.5,508.2 603.05,507.89 671.6,509.19" fill="none" stroke="#ff00ff" stroke-width="1.4" stroke-linejoin="round"/>
<polygon points="405.97,492.17 410.67,483.67 401.27,483.67" fill="#ff00ff"/>
<polygon points="414.54,480.49 419.24,471.99 409.84,471.99" fill="#ff00ff"/>
<polygon points="431.67,475.78 436.37,467.28 426.97,467.28" fill="#ff00ff"/>
<polygon points="465.95,499.35 470.65,490.85 461.25,490.85" fill="#ff00ff"/>
<polygon points="500.23,506.98 504.93,498.48 495.53,498.48" fill="#ff00ff"/>
<polygon points="534.5,513.4 539.2,504.9 529.8,504.9" fill="#ff00ff"/>
<polygon points="603.05,513.09 607.75,504.59 598.35,504.59" fill="#ff00ff"/>
<polygon points="671.6,514.39 676.3,505.89 666.9,505.89" fill="#ff00ff"/>
<polyline points="405.97,436.68 414.54,478.44 431.67,427.25 465.95,418 500.23,426.8 534.5,426.8 603.05,433.22 671.6,444.31" fill="none" stroke="#008000" stroke-width="1.4" stroke-linejoin="round"/>
<polygon points="405.97,431.68 410.97,436.68 405.97,441.68 400.97,436.68" fill="#008000"/>
<polygon points="414.54,473.44 419.54,478.44 414.54,483.44 409.54,478.44" fill="#008000"/>
<polygon points="431.67,422.25 436.67,427.25 431.67,432.25 426.67,427.25" fill="#008000"/>
<polygon points="465.95,413 470.95,418 465.95,423 460.95,418" fill="#008000"/>
<polygon points="500.23,421.8 505.23,426.8 500.23,431.8 495.23,426.8" fill="#008000"/>
<polygon points="534.5,421.8 539.5,426.8 534.5,431.8 529.5,426.8" fill="#008000"/>
<polygon points="603.05,428.22 608.05,433.22 603.05,438.22 598.05,433.22" fill="#008000"/>
<polygon points="671.6,439.31 676.6,444.31 671.6,449.31 666.6,444.31" fill="#008000"/>
<polyline points="405.97,516.6 414.54,516.6 431.67,516.6 465.95,515.25 500.23,503.58 534.5,506.9 603.05,510.31 671.6,511.21" fill="none" stroke="#000080" stroke-width="1.4" stroke-linejoin="round"/>
<polygon points="400.77,516.6 409.27,511.9 409.27,521.3" fill="#000080"/>
<polygon points="409.34,516.6 417.84,511.9 417.84,521.3" fill="#000080"/>
<polygon points="426.47,516.6 434.97,511.9 434.97,521.3" fill="#000080"/>
<polygon points="460.75,515.25 469.25,510.55 469.25,519.95" fill="#000080"/>
<polygon points="495.03,503.58 503.53,498.88 503.53,508.28" fill="#000080"/>
<polygon points="529.3,506.9 537.8,502.2 537.8,511.6" fill="#000080"/>
<polygon points="597.85,510.31 606.35,505.61 606.35,515.01" fill="#000080"/>
<polygon points="666.4,511.21 674.9,506.51 674.9,515.91" fill="#000080"/>
<polyline points="405.97,501.51 414.54,510.76 431.67,509.42 465.95,503.4 500.23,508.07 534.5,508.07 603.05,510.9 671.6,511.48" fill="none" stroke="#8000ff" stroke-width="1.4" stroke-linejoin="round"/>
<polygon points="411.17,501.51 402.67,496.81 402.67,506.21" fill="#8000ff"/>
<polygon points="419.74,510.76 411.24,506.06 411.24,515.46" fill="#8000ff"/>
<polygon points="436.87,509.42 428.37,504.72 428.37,514.12" fill="#8000ff"/>
<polygon points="471.15,503.4 462.65,498.7 462.65,508.1" fill="#8000ff"/>
<polygon points="505.43,508.07 496.93,503.37 496.93,512.77" fill="#8000ff"/>
<polygon points="539.7,508.07 531.2,503.37 531.2,512.77" fill="#8000ff"/>
<polygon points="608.25,510.9 599.75,506.2 599.75,515.6" fill="#8000ff"/>
<polygon points="676.8,511.48 668.3,506.78 668.3,516.18" fill="#8000ff"/>
<polyline points="405.97,496.22 414.54,502.23 431.67,514.58 465.95,515.7 500.23,511.3 534.5,513.5 603.05,514.36 671.6,514.36" fill="none" stroke="#800080" stroke-width="1.4" stroke-linejoin="round"/>
<polygon points="405.97,491.72 409.87,493.97 409.87,498.47 405.97,500.72 402.07,498.47 402.07,493.97" fill="#800080"/>
<polygon points="414.54,497.73 418.43,499.98 418.43,504.48 414.54,506.73 410.64,504.48 410.64,499.98" fill="#800080"/>
<polygon points="431.67,510.08 435.57,512.33 435.57,516.83 431.67,519.08 427.78,516.83 427.78,512.33" fill="#800080"/>
<polygon points="465.95,511.2 469.85,513.45 469.85,517.95 465.95,520.2 462.05,517.95 462.05,513.45" fill="#800080"/>
<polygon points="500.23,506.8 504.12,509.05 504.12,513.55 500.23,515.8 496.33,513.55 496.33,509.05" fill="#800080"/>
<polygon points="534.5,509 538.4,511.25 538.4,515.75 534.5,518 530.6,515.75 530.6,511.25" fill="#800080"/>
<polygon points="603.05,509.86 606.95,512.11 606.95,516.61 603.05,518.86 599.15,516.61 599.15,512.11" fill="#800080"/>
<polygon points="671.6,509.86 675.5,512.11 675.5,516.61 671.6,518.86 667.7,516.61 667.7,512.11" fill="#800080"/>
<rect x="397.4" y="325.8" width="281.1" height="202.4" fill="none" stroke="#000" stroke-width="1.4"/>
<line x1="397.4" y1="516.6" x2="401.6" y2="516.6" class="t"/>
<text x="392.8" y="520.2" class="tl" text-anchor="end">0.0</text>
<line x1="397.4" y1="494.15" x2="400" y2="494.15" class="t"/>
<line x1="397.4" y1="471.7" x2="401.6" y2="471.7" class="t"/>
<text x="392.8" y="475.3" class="tl" text-anchor="end">0.1</text>
<line x1="397.4" y1="449.25" x2="400" y2="449.25" class="t"/>
<line x1="397.4" y1="426.8" x2="401.6" y2="426.8" class="t"/>
<text x="392.8" y="430.4" class="tl" text-anchor="end">0.2</text>
<line x1="397.4" y1="404.35" x2="400" y2="404.35" class="t"/>
<line x1="397.4" y1="381.9" x2="401.6" y2="381.9" class="t"/>
<text x="392.8" y="385.5" class="tl" text-anchor="end">0.3</text>
<line x1="397.4" y1="359.45" x2="400" y2="359.45" class="t"/>
<line x1="397.4" y1="337" x2="401.6" y2="337" class="t"/>
<text x="392.8" y="340.6" class="tl" text-anchor="end">0.4</text>
<line x1="397.4" y1="528.2" x2="397.4" y2="524" class="t"/>
<text x="397.4" y="542" class="tl" text-anchor="middle">0</text>
<line x1="431.67" y1="528.2" x2="431.67" y2="525.6" class="t"/>
<line x1="465.95" y1="528.2" x2="465.95" y2="524" class="t"/>
<text x="465.95" y="542" class="tl" text-anchor="middle">256</text>
<line x1="500.23" y1="528.2" x2="500.23" y2="525.6" class="t"/>
<line x1="534.5" y1="528.2" x2="534.5" y2="524" class="t"/>
<text x="534.5" y="542" class="tl" text-anchor="middle">512</text>
<line x1="568.77" y1="528.2" x2="568.77" y2="525.6" class="t"/>
<line x1="603.05" y1="528.2" x2="603.05" y2="524" class="t"/>
<text x="603.05" y="542" class="tl" text-anchor="middle">768</text>
<line x1="637.33" y1="528.2" x2="637.33" y2="525.6" class="t"/>
<line x1="671.6" y1="528.2" x2="671.6" y2="524" class="t"/>
<text x="671.6" y="542" class="tl" text-anchor="middle">1024</text>
<text x="537.95" y="562.9" class="xt" text-anchor="middle">N</text>
<text transform="translate(364.3,435.35) rotate(-90)" class="yt" text-anchor="middle">Variance importance index</text>
<rect x="607.5" y="332.1" width="59.1" height="160.4" fill="#fff" stroke="#a8a8a8" stroke-width="1"/>
<line x1="614.7" y1="355.5" x2="644.3" y2="355.5" stroke="#000000" stroke-width="1.4"/>
<rect x="626" y="352" width="7" height="7" fill="#000000"/>
<text x="646.5" y="359.7" class="lg">f</text>
<text x="651.5" y="364.3" class="ls">y</text>
<line x1="614.7" y1="375.2" x2="644.3" y2="375.2" stroke="#ff0000" stroke-width="1.4"/>
<circle cx="629.5" cy="375.2" r="3.85" fill="#ff0000"/>
<text x="646.5" y="379.4" class="lg">E</text>
<text x="654.3" y="384" class="ls">s</text>
<line x1="614.7" y1="394.8" x2="644.3" y2="394.8" stroke="#0000ff" stroke-width="1.4"/>
<polygon points="629.5,389.6 634.2,398.1 624.8,398.1" fill="#0000ff"/>
<text x="646.5" y="399" class="lg">M</text>
<text x="657.1" y="403.6" class="ls">s</text>
<line x1="614.7" y1="414.4" x2="644.3" y2="414.4" stroke="#ff00ff" stroke-width="1.4"/>
<polygon points="629.5,419.6 634.2,411.1 624.8,411.1" fill="#ff00ff"/>
<text x="646.5" y="418" class="lz">ζ</text>
<line x1="614.7" y1="430.3" x2="644.3" y2="430.3" stroke="#008000" stroke-width="1.4"/>
<polygon points="629.5,425.3 634.5,430.3 629.5,435.3 624.5,430.3" fill="#008000"/>
<text x="646.5" y="434.5" class="lg">f</text>
<text x="651.5" y="439.1" class="ls">c</text>
<line x1="614.7" y1="450" x2="644.3" y2="450" stroke="#000080" stroke-width="1.4"/>
<polygon points="624.3,450 632.8,445.3 632.8,454.7" fill="#000080"/>
<text x="646.5" y="454.2" class="lg">E</text>
<text x="654.3" y="458.8" class="ls">c</text>
<line x1="614.7" y1="469.3" x2="644.3" y2="469.3" stroke="#8000ff" stroke-width="1.4"/>
<polygon points="634.7,469.3 626.2,464.6 626.2,474" fill="#8000ff"/>
<text x="646.5" y="473.5" class="lg">c</text>
<line x1="614.7" y1="484.7" x2="644.3" y2="484.7" stroke="#800080" stroke-width="1.4"/>
<polygon points="629.5,480.2 633.4,482.45 633.4,486.95 629.5,489.2 625.6,486.95 625.6,482.45" fill="#800080"/>
<text x="646.5" y="488.9" class="lg">k</text>
<text x="511.6" y="607" class="cap" text-anchor="middle">(d)</text>
<line x1="43.6" y1="837.6" x2="322.4" y2="837.6" class="g"/>
<line x1="43.6" y1="799.25" x2="322.4" y2="799.25" class="g"/>
<line x1="43.6" y1="760.9" x2="322.4" y2="760.9" class="g"/>
<line x1="43.6" y1="722.55" x2="322.4" y2="722.55" class="g"/>
<line x1="43.6" y1="684.2" x2="322.4" y2="684.2" class="g"/>
<polyline points="51.15,695.32 59.7,812.79 76.8,789.28 111,784.29 145.2,786.59 179.4,788.7 247.8,795.03 316.2,795.03" fill="none" stroke="#000000" stroke-width="1.4" stroke-linejoin="round"/>
<rect x="47.65" y="691.82" width="7" height="7" fill="#000000"/>
<rect x="56.2" y="809.29" width="7" height="7" fill="#000000"/>
<rect x="73.3" y="785.78" width="7" height="7" fill="#000000"/>
<rect x="107.5" y="780.79" width="7" height="7" fill="#000000"/>
<rect x="141.7" y="783.09" width="7" height="7" fill="#000000"/>
<rect x="175.9" y="785.2" width="7" height="7" fill="#000000"/>
<rect x="244.3" y="791.53" width="7" height="7" fill="#000000"/>
<rect x="312.7" y="791.53" width="7" height="7" fill="#000000"/>
<polyline points="51.15,808.19 59.7,824.18 76.8,830.7 111,829.93 145.2,832.61 179.4,836.45 247.8,833.76 316.2,833" fill="none" stroke="#ff0000" stroke-width="1.4" stroke-linejoin="round"/>
<circle cx="51.15" cy="808.19" r="3.85" fill="#ff0000"/>
<circle cx="59.7" cy="824.18" r="3.85" fill="#ff0000"/>
<circle cx="76.8" cy="830.7" r="3.85" fill="#ff0000"/>
<circle cx="111" cy="829.93" r="3.85" fill="#ff0000"/>
<circle cx="145.2" cy="832.61" r="3.85" fill="#ff0000"/>
<circle cx="179.4" cy="836.45" r="3.85" fill="#ff0000"/>
<circle cx="247.8" cy="833.76" r="3.85" fill="#ff0000"/>
<circle cx="316.2" cy="833" r="3.85" fill="#ff0000"/>
<polyline points="51.15,738.66 59.7,797.72 76.8,818.04 111,826.86 145.2,828.01 179.4,828.01 247.8,824.75 316.2,824.18" fill="none" stroke="#0000ff" stroke-width="1.4" stroke-linejoin="round"/>
<polygon points="51.15,733.46 55.85,741.96 46.45,741.96" fill="#0000ff"/>
<polygon points="59.7,792.52 64.4,801.02 55,801.02" fill="#0000ff"/>
<polygon points="76.8,812.84 81.5,821.34 72.1,821.34" fill="#0000ff"/>
<polygon points="111,821.66 115.7,830.16 106.3,830.16" fill="#0000ff"/>
<polygon points="145.2,822.81 149.9,831.31 140.5,831.31" fill="#0000ff"/>
<polygon points="179.4,822.81 184.1,831.31 174.7,831.31" fill="#0000ff"/>
<polygon points="247.8,819.55 252.5,828.05 243.1,828.05" fill="#0000ff"/>
<polygon points="316.2,818.98 320.9,827.48 311.5,827.48" fill="#0000ff"/>
<polyline points="51.15,811.91 59.7,707.59 76.8,685.93 111,648.34 145.2,686.88 179.4,673.46 247.8,661.19 316.2,656.7" fill="none" stroke="#ff00ff" stroke-width="1.4" stroke-linejoin="round"/>
<polygon points="51.15,817.11 55.85,808.61 46.45,808.61" fill="#ff00ff"/>
<polygon points="59.7,712.79 64.4,704.29 55,704.29" fill="#ff00ff"/>
<polygon points="76.8,691.13 81.5,682.63 72.1,682.63" fill="#ff00ff"/>
<polygon points="111,653.54 115.7,645.04 106.3,645.04" fill="#ff00ff"/>
<polygon points="145.2,692.08 149.9,683.58 140.5,683.58" fill="#ff00ff"/>
<polygon points="179.4,678.66 184.1,670.16 174.7,670.16" fill="#ff00ff"/>
<polygon points="247.8,666.39 252.5,657.89 243.1,657.89" fill="#ff00ff"/>
<polygon points="316.2,661.9 320.9,653.4 311.5,653.4" fill="#ff00ff"/>
<polyline points="51.15,769.91 59.7,833.19 76.8,826.59 111,832.61 145.2,833.38 179.4,831.31 247.8,833 316.2,833.76" fill="none" stroke="#008000" stroke-width="1.4" stroke-linejoin="round"/>
<polygon points="51.15,764.91 56.15,769.91 51.15,774.91 46.15,769.91" fill="#008000"/>
<polygon points="59.7,828.19 64.7,833.19 59.7,838.19 54.7,833.19" fill="#008000"/>
<polygon points="76.8,821.59 81.8,826.59 76.8,831.59 71.8,826.59" fill="#008000"/>
<polygon points="111,827.61 116,832.61 111,837.61 106,832.61" fill="#008000"/>
<polygon points="145.2,828.38 150.2,833.38 145.2,838.38 140.2,833.38" fill="#008000"/>
<polygon points="179.4,826.31 184.4,831.31 179.4,836.31 174.4,831.31" fill="#008000"/>
<polygon points="247.8,828 252.8,833 247.8,838 242.8,833" fill="#008000"/>
<polygon points="316.2,828.76 321.2,833.76 316.2,838.76 311.2,833.76" fill="#008000"/>
<polyline points="51.15,837.6 59.7,837.6 76.8,837.6 111,837.6 145.2,837.6 179.4,833.38 247.8,831.31 316.2,831.31" fill="none" stroke="#000080" stroke-width="1.4" stroke-linejoin="round"/>
<polygon points="45.95,837.6 54.45,832.9 54.45,842.3" fill="#000080"/>
<polygon points="54.5,837.6 63,832.9 63,842.3" fill="#000080"/>
<polygon points="71.6,837.6 80.1,832.9 80.1,842.3" fill="#000080"/>
<polygon points="105.8,837.6 114.3,832.9 114.3,842.3" fill="#000080"/>
<polygon points="140,837.6 148.5,832.9 148.5,842.3" fill="#000080"/>
<polygon points="174.2,833.38 182.7,828.68 182.7,838.08" fill="#000080"/>
<polygon points="242.6,831.31 251.1,826.61 251.1,836.01" fill="#000080"/>
<polygon points="311,831.31 319.5,826.61 319.5,836.01" fill="#000080"/>
<polyline points="51.15,824.18 59.7,818.43 76.8,819.38 111,793.5 145.2,795.03 179.4,816.2 247.8,804.39 316.2,812.79" fill="none" stroke="#8000ff" stroke-width="1.4" stroke-linejoin="round"/>
<polygon points="56.35,824.18 47.85,819.48 47.85,828.88" fill="#8000ff"/>
<polygon points="64.9,818.43 56.4,813.73 56.4,823.13" fill="#8000ff"/>
<polygon points="82,819.38 73.5,814.68 73.5,824.08" fill="#8000ff"/>
<polygon points="116.2,793.5 107.7,788.8 107.7,798.2" fill="#8000ff"/>
<polygon points="150.4,795.03 141.9,790.33 141.9,799.73" fill="#8000ff"/>
<polygon points="184.6,816.2 176.1,811.5 176.1,820.9" fill="#8000ff"/>
<polygon points="253,804.39 244.5,799.69 244.5,809.09" fill="#8000ff"/>
<polygon points="321.4,812.79 312.9,808.09 312.9,817.49" fill="#8000ff"/>
<polyline points="51.15,820.34 59.7,826.59 76.8,829.93 111,832.69 145.2,833.19 179.4,835.68 247.8,834.92 316.2,835.68" fill="none" stroke="#800080" stroke-width="1.4" stroke-linejoin="round"/>
<polygon points="51.15,815.84 55.05,818.09 55.05,822.59 51.15,824.84 47.25,822.59 47.25,818.09" fill="#800080"/>
<polygon points="59.7,822.09 63.6,824.34 63.6,828.84 59.7,831.09 55.8,828.84 55.8,824.34" fill="#800080"/>
<polygon points="76.8,825.43 80.7,827.68 80.7,832.18 76.8,834.43 72.9,832.18 72.9,827.68" fill="#800080"/>
<polygon points="111,828.19 114.9,830.44 114.9,834.94 111,837.19 107.1,834.94 107.1,830.44" fill="#800080"/>
<polygon points="145.2,828.69 149.1,830.94 149.1,835.44 145.2,837.69 141.3,835.44 141.3,830.94" fill="#800080"/>
<polygon points="179.4,831.18 183.3,833.43 183.3,837.93 179.4,840.18 175.5,837.93 175.5,833.43" fill="#800080"/>
<polygon points="247.8,830.42 251.7,832.67 251.7,837.17 247.8,839.42 243.9,837.17 243.9,832.67" fill="#800080"/>
<polygon points="316.2,831.18 320.1,833.43 320.1,837.93 316.2,840.18 312.3,837.93 312.3,833.43" fill="#800080"/>
<rect x="42.6" y="645.8" width="280.8" height="201.8" fill="none" stroke="#000" stroke-width="1.4"/>
<line x1="42.6" y1="837.6" x2="46.8" y2="837.6" class="t"/>
<text x="38" y="841.2" class="tl" text-anchor="end">0.0</text>
<line x1="42.6" y1="818.43" x2="45.2" y2="818.43" class="t"/>
<line x1="42.6" y1="799.25" x2="46.8" y2="799.25" class="t"/>
<text x="38" y="802.85" class="tl" text-anchor="end">0.1</text>
<line x1="42.6" y1="780.08" x2="45.2" y2="780.08" class="t"/>
<line x1="42.6" y1="760.9" x2="46.8" y2="760.9" class="t"/>
<text x="38" y="764.5" class="tl" text-anchor="end">0.2</text>
<line x1="42.6" y1="741.73" x2="45.2" y2="741.73" class="t"/>
<line x1="42.6" y1="722.55" x2="46.8" y2="722.55" class="t"/>
<text x="38" y="726.15" class="tl" text-anchor="end">0.3</text>
<line x1="42.6" y1="703.38" x2="45.2" y2="703.38" class="t"/>
<line x1="42.6" y1="684.2" x2="46.8" y2="684.2" class="t"/>
<text x="38" y="687.8" class="tl" text-anchor="end">0.4</text>
<line x1="42.6" y1="665.02" x2="45.2" y2="665.02" class="t"/>
<text x="38" y="649.45" class="tl" text-anchor="end">0.5</text>
<line x1="42.6" y1="847.6" x2="42.6" y2="843.4" class="t"/>
<text x="42.6" y="861.4" class="tl" text-anchor="middle">0</text>
<line x1="76.8" y1="847.6" x2="76.8" y2="845" class="t"/>
<line x1="111" y1="847.6" x2="111" y2="843.4" class="t"/>
<text x="111" y="861.4" class="tl" text-anchor="middle">256</text>
<line x1="145.2" y1="847.6" x2="145.2" y2="845" class="t"/>
<line x1="179.4" y1="847.6" x2="179.4" y2="843.4" class="t"/>
<text x="179.4" y="861.4" class="tl" text-anchor="middle">512</text>
<line x1="213.6" y1="847.6" x2="213.6" y2="845" class="t"/>
<line x1="247.8" y1="847.6" x2="247.8" y2="843.4" class="t"/>
<text x="247.8" y="861.4" class="tl" text-anchor="middle">768</text>
<line x1="282" y1="847.6" x2="282" y2="845" class="t"/>
<line x1="316.2" y1="847.6" x2="316.2" y2="843.4" class="t"/>
<text x="316.2" y="861.4" class="tl" text-anchor="middle">1024</text>
<text x="183" y="882.3" class="xt" text-anchor="middle">N</text>
<text transform="translate(12.9,735.15) rotate(-90)" class="yt yi" text-anchor="middle">Information entropy importance index</text>
<rect x="252.4" y="651.7" width="59.1" height="160.7" fill="#fff" stroke="#a8a8a8" stroke-width="1"/>
<line x1="259.6" y1="675.1" x2="289.2" y2="675.1" stroke="#000000" stroke-width="1.4"/>
<rect x="270.9" y="671.6" width="7" height="7" fill="#000000"/>
<text x="291.4" y="679.3" class="lg">f</text>
<text x="296.4" y="683.9" class="ls">y</text>
<line x1="259.6" y1="694.8" x2="289.2" y2="694.8" stroke="#ff0000" stroke-width="1.4"/>
<circle cx="274.4" cy="694.8" r="3.85" fill="#ff0000"/>
<text x="291.4" y="699" class="lg">E</text>
<text x="299.2" y="703.6" class="ls">s</text>
<line x1="259.6" y1="714.4" x2="289.2" y2="714.4" stroke="#0000ff" stroke-width="1.4"/>
<polygon points="274.4,709.2 279.1,717.7 269.7,717.7" fill="#0000ff"/>
<text x="291.4" y="718.6" class="lg">M</text>
<text x="302" y="723.2" class="ls">s</text>
<line x1="259.6" y1="734" x2="289.2" y2="734" stroke="#ff00ff" stroke-width="1.4"/>
<polygon points="274.4,739.2 279.1,730.7 269.7,730.7" fill="#ff00ff"/>
<text x="291.4" y="737.6" class="lz">ζ</text>
<line x1="259.6" y1="749.9" x2="289.2" y2="749.9" stroke="#008000" stroke-width="1.4"/>
<polygon points="274.4,744.9 279.4,749.9 274.4,754.9 269.4,749.9" fill="#008000"/>
<text x="291.4" y="754.1" class="lg">f</text>
<text x="296.4" y="758.7" class="ls">c</text>
<line x1="259.6" y1="769.6" x2="289.2" y2="769.6" stroke="#000080" stroke-width="1.4"/>
<polygon points="269.2,769.6 277.7,764.9 277.7,774.3" fill="#000080"/>
<text x="291.4" y="773.8" class="lg">E</text>
<text x="299.2" y="778.4" class="ls">c</text>
<line x1="259.6" y1="788.9" x2="289.2" y2="788.9" stroke="#8000ff" stroke-width="1.4"/>
<polygon points="279.6,788.9 271.1,784.2 271.1,793.6" fill="#8000ff"/>
<text x="291.4" y="793.1" class="lg">c</text>
<line x1="259.6" y1="804.3" x2="289.2" y2="804.3" stroke="#800080" stroke-width="1.4"/>
<polygon points="274.4,799.8 278.3,802.05 278.3,806.55 274.4,808.8 270.5,806.55 270.5,802.05" fill="#800080"/>
<text x="291.4" y="808.5" class="lg">k</text>
<text x="159.1" y="927" class="cap" text-anchor="middle">(e)</text>
<line x1="393.9" y1="839.4" x2="672.7" y2="839.4" class="g"/>
<line x1="393.9" y1="774.88" x2="672.7" y2="774.88" class="g"/>
<line x1="393.9" y1="710.36" x2="672.7" y2="710.36" class="g"/>
<polyline points="401.46,719.49 410.02,805.01 427.14,768.59 461.38,765.2 495.61,766.3 529.85,770.36 598.32,772.62 666.8,777.78" fill="none" stroke="#000000" stroke-width="1.4" stroke-linejoin="round"/>
<rect x="397.96" y="715.99" width="7" height="7" fill="#000000"/>
<rect x="406.52" y="801.51" width="7" height="7" fill="#000000"/>
<rect x="423.64" y="765.09" width="7" height="7" fill="#000000"/>
<rect x="457.88" y="761.7" width="7" height="7" fill="#000000"/>
<rect x="492.11" y="762.8" width="7" height="7" fill="#000000"/>
<rect x="526.35" y="766.86" width="7" height="7" fill="#000000"/>
<rect x="594.82" y="769.12" width="7" height="7" fill="#000000"/>
<rect x="663.3" y="774.28" width="7" height="7" fill="#000000"/>
<polyline points="401.46,814.88 410.02,816.17 427.14,824.11 461.38,828.43 495.61,830.37 529.85,838.11 598.32,834.88 666.8,834.88" fill="none" stroke="#ff0000" stroke-width="1.4" stroke-linejoin="round"/>
<circle cx="401.46" cy="814.88" r="3.85" fill="#ff0000"/>
<circle cx="410.02" cy="816.17" r="3.85" fill="#ff0000"/>
<circle cx="427.14" cy="824.11" r="3.85" fill="#ff0000"/>
<circle cx="461.38" cy="828.43" r="3.85" fill="#ff0000"/>
<circle cx="495.61" cy="830.37" r="3.85" fill="#ff0000"/>
<circle cx="529.85" cy="838.11" r="3.85" fill="#ff0000"/>
<circle cx="598.32" cy="834.88" r="3.85" fill="#ff0000"/>
<circle cx="666.8" cy="834.88" r="3.85" fill="#ff0000"/>
<polyline points="401.46,755.85 410.02,805.69 427.14,816.88 461.38,815.2 495.61,821.98 529.85,818.01 598.32,815.69 666.8,815.53" fill="none" stroke="#0000ff" stroke-width="1.4" stroke-linejoin="round"/>
<polygon points="401.46,750.65 406.16,759.15 396.76,759.15" fill="#0000ff"/>
<polygon points="410.02,800.49 414.72,808.99 405.32,808.99" fill="#0000ff"/>
<polygon points="427.14,811.68 431.84,820.18 422.44,820.18" fill="#0000ff"/>
<polygon points="461.38,810 466.07,818.5 456.68,818.5" fill="#0000ff"/>
<polygon points="495.61,816.78 500.31,825.28 490.91,825.28" fill="#0000ff"/>
<polygon points="529.85,812.81 534.55,821.31 525.15,821.31" fill="#0000ff"/>
<polygon points="598.32,810.49 603.02,818.99 593.62,818.99" fill="#0000ff"/>
<polygon points="666.8,810.33 671.5,818.83 662.1,818.83" fill="#0000ff"/>
<polyline points="401.46,817.46 410.02,683.1 427.14,665 461.38,662.94 495.61,657.45 529.85,655.2 598.32,655.84 666.8,655.84" fill="none" stroke="#ff00ff" stroke-width="1.4" stroke-linejoin="round"/>
<polygon points="401.46,822.66 406.16,814.16 396.76,814.16" fill="#ff00ff"/>
<polygon points="410.02,688.3 414.72,679.8 405.32,679.8" fill="#ff00ff"/>
<polygon points="427.14,670.2 431.84,661.7 422.44,661.7" fill="#ff00ff"/>
<polygon points="461.38,668.14 466.07,659.64 456.68,659.64" fill="#ff00ff"/>
<polygon points="495.61,662.65 500.31,654.15 490.91,654.15" fill="#ff00ff"/>
<polygon points="529.85,660.4 534.55,651.9 525.15,651.9" fill="#ff00ff"/>
<polygon points="598.32,661.04 603.02,652.54 593.62,652.54" fill="#ff00ff"/>
<polygon points="666.8,661.04 671.5,652.54 662.1,652.54" fill="#ff00ff"/>
<polyline points="401.46,781.98 410.02,831.33 427.14,821.5 461.38,830.04 495.61,831.98 529.85,835.85 598.32,834.24 666.8,836.5" fill="none" stroke="#008000" stroke-width="1.4" stroke-linejoin="round"/>
<polygon points="401.46,776.98 406.46,781.98 401.46,786.98 396.46,781.98" fill="#008000"/>
<polygon points="410.02,826.33 415.02,831.33 410.02,836.33 405.02,831.33" fill="#008000"/>
<polygon points="427.14,816.5 432.14,821.5 427.14,826.5 422.14,821.5" fill="#008000"/>
<polygon points="461.38,825.04 466.38,830.04 461.38,835.04 456.38,830.04" fill="#008000"/>
<polygon points="495.61,826.98 500.61,831.98 495.61,836.98 490.61,831.98" fill="#008000"/>
<polygon points="529.85,830.85 534.85,835.85 529.85,840.85 524.85,835.85" fill="#008000"/>
<polygon points="598.32,829.24 603.32,834.24 598.32,839.24 593.32,834.24" fill="#008000"/>
<polygon points="666.8,831.5 671.8,836.5 666.8,841.5 661.8,836.5" fill="#008000"/>
<polyline points="401.46,839.4 410.02,837.79 427.14,839.4 461.38,839.08 495.61,838.75 529.85,818.11 598.32,825.69 666.8,830.37" fill="none" stroke="#000080" stroke-width="1.4" stroke-linejoin="round"/>
<polygon points="396.26,839.4 404.76,834.7 404.76,844.1" fill="#000080"/>
<polygon points="404.82,837.79 413.32,833.09 413.32,842.49" fill="#000080"/>
<polygon points="421.94,839.4 430.44,834.7 430.44,844.1" fill="#000080"/>
<polygon points="456.18,839.08 464.68,834.38 464.68,843.78" fill="#000080"/>
<polygon points="490.41,838.75 498.91,834.05 498.91,843.45" fill="#000080"/>
<polygon points="524.65,818.11 533.15,813.41 533.15,822.81" fill="#000080"/>
<polygon points="593.12,825.69 601.62,820.99 601.62,830.39" fill="#000080"/>
<polygon points="661.6,830.37 670.1,825.67 670.1,835.07" fill="#000080"/>
<polyline points="401.46,828.75 410.02,808.3 427.14,811.01 461.38,768.27 495.61,780.36 529.85,797.14 598.32,787.78 666.8,799.78" fill="none" stroke="#8000ff" stroke-width="1.4" stroke-linejoin="round"/>
<polygon points="406.66,828.75 398.16,824.05 398.16,833.45" fill="#8000ff"/>
<polygon points="415.22,808.3 406.72,803.6 406.72,813" fill="#8000ff"/>
<polygon points="432.34,811.01 423.84,806.31 423.84,815.71" fill="#8000ff"/>
<polygon points="466.57,768.27 458.07,763.57 458.07,772.97" fill="#8000ff"/>
<polygon points="500.81,780.36 492.31,775.66 492.31,785.06" fill="#8000ff"/>
<polygon points="535.05,797.14 526.55,792.44 526.55,801.84" fill="#8000ff"/>
<polygon points="603.52,787.78 595.02,783.08 595.02,792.48" fill="#8000ff"/>
<polygon points="672,799.78 663.5,795.08 663.5,804.48" fill="#8000ff"/>
<polyline points="401.46,824.72 410.02,820.04 427.14,825.4 461.38,833.11 495.61,833.11 529.85,838.11 598.32,835.85 666.8,838.11" fill="none" stroke="#800080" stroke-width="1.4" stroke-linejoin="round"/>
<polygon points="401.46,820.22 405.36,822.47 405.36,826.97 401.46,829.22 397.56,826.97 397.56,822.47" fill="#800080"/>
<polygon points="410.02,815.54 413.92,817.79 413.92,822.29 410.02,824.54 406.12,822.29 406.12,817.79" fill="#800080"/>
<polygon points="427.14,820.9 431.03,823.15 431.03,827.65 427.14,829.9 423.24,827.65 423.24,823.15" fill="#800080"/>
<polygon points="461.38,828.61 465.27,830.86 465.27,835.36 461.38,837.61 457.48,835.36 457.48,830.86" fill="#800080"/>
<polygon points="495.61,828.61 499.51,830.86 499.51,835.36 495.61,837.61 491.72,835.36 491.72,830.86" fill="#800080"/>
<polygon points="529.85,833.61 533.75,835.86 533.75,840.36 529.85,842.61 525.95,840.36 525.95,835.86" fill="#800080"/>
<polygon points="598.32,831.35 602.22,833.6 602.22,838.1 598.32,840.35 594.43,838.1 594.43,833.6" fill="#800080"/>
<polygon points="666.8,833.61 670.7,835.86 670.7,840.36 666.8,842.61 662.9,840.36 662.9,835.86" fill="#800080"/>
<rect x="392.9" y="645.6" width="280.8" height="202" fill="none" stroke="#000" stroke-width="1.4"/>
<line x1="392.9" y1="839.4" x2="397.1" y2="839.4" class="t"/>
<text x="388.3" y="843" class="tl" text-anchor="end">0.0</text>
<line x1="392.9" y1="807.14" x2="395.5" y2="807.14" class="t"/>
<line x1="392.9" y1="774.88" x2="397.1" y2="774.88" class="t"/>
<text x="388.3" y="778.48" class="tl" text-anchor="end">0.2</text>
<line x1="392.9" y1="742.62" x2="395.5" y2="742.62" class="t"/>
<line x1="392.9" y1="710.36" x2="397.1" y2="710.36" class="t"/>
<text x="388.3" y="713.96" class="tl" text-anchor="end">0.4</text>
<line x1="392.9" y1="678.1" x2="395.5" y2="678.1" class="t"/>
<text x="388.3" y="649.44" class="tl" text-anchor="end">0.6</text>
<line x1="392.9" y1="847.6" x2="392.9" y2="843.4" class="t"/>
<text x="392.9" y="861.4" class="tl" text-anchor="middle">0</text>
<line x1="427.14" y1="847.6" x2="427.14" y2="845" class="t"/>
<line x1="461.38" y1="847.6" x2="461.38" y2="843.4" class="t"/>
<text x="461.38" y="861.4" class="tl" text-anchor="middle">256</text>
<line x1="495.61" y1="847.6" x2="495.61" y2="845" class="t"/>
<line x1="529.85" y1="847.6" x2="529.85" y2="843.4" class="t"/>
<text x="529.85" y="861.4" class="tl" text-anchor="middle">512</text>
<line x1="564.09" y1="847.6" x2="564.09" y2="845" class="t"/>
<line x1="598.32" y1="847.6" x2="598.32" y2="843.4" class="t"/>
<text x="598.32" y="861.4" class="tl" text-anchor="middle">768</text>
<line x1="632.56" y1="847.6" x2="632.56" y2="845" class="t"/>
<line x1="666.8" y1="847.6" x2="666.8" y2="843.4" class="t"/>
<text x="666.8" y="861.4" class="tl" text-anchor="middle">1024</text>
<text x="533.3" y="882.3" class="xt" text-anchor="middle">N</text>
<text transform="translate(360,754.95) rotate(-90)" class="yt" text-anchor="middle">Variance importance index</text>
<rect x="602.6" y="651.8" width="58.8" height="160.6" fill="#fff" stroke="#a8a8a8" stroke-width="1"/>
<line x1="609.8" y1="675.2" x2="639.4" y2="675.2" stroke="#000000" stroke-width="1.4"/>
<rect x="621.1" y="671.7" width="7" height="7" fill="#000000"/>
<text x="641.6" y="679.4" class="lg">f</text>
<text x="646.6" y="684" class="ls">y</text>
<line x1="609.8" y1="694.9" x2="639.4" y2="694.9" stroke="#ff0000" stroke-width="1.4"/>
<circle cx="624.6" cy="694.9" r="3.85" fill="#ff0000"/>
<text x="641.6" y="699.1" class="lg">E</text>
<text x="649.4" y="703.7" class="ls">s</text>
<line x1="609.8" y1="714.5" x2="639.4" y2="714.5" stroke="#0000ff" stroke-width="1.4"/>
<polygon points="624.6,709.3 629.3,717.8 619.9,717.8" fill="#0000ff"/>
<text x="641.6" y="718.7" class="lg">M</text>
<text x="652.2" y="723.3" class="ls">s</text>
<line x1="609.8" y1="734.1" x2="639.4" y2="734.1" stroke="#ff00ff" stroke-width="1.4"/>
<polygon points="624.6,739.3 629.3,730.8 619.9,730.8" fill="#ff00ff"/>
<text x="641.6" y="737.7" class="lz">ζ</text>
<line x1="609.8" y1="750" x2="639.4" y2="750" stroke="#008000" stroke-width="1.4"/>
<polygon points="624.6,745 629.6,750 624.6,755 619.6,750" fill="#008000"/>
<text x="641.6" y="754.2" class="lg">f</text>
<text x="646.6" y="758.8" class="ls">c</text>
<line x1="609.8" y1="769.7" x2="639.4" y2="769.7" stroke="#000080" stroke-width="1.4"/>
<polygon points="619.4,769.7 627.9,765 627.9,774.4" fill="#000080"/>
<text x="641.6" y="773.9" class="lg">E</text>
<text x="649.4" y="778.5" class="ls">c</text>
<line x1="609.8" y1="789" x2="639.4" y2="789" stroke="#8000ff" stroke-width="1.4"/>
<polygon points="629.8,789 621.3,784.3 621.3,793.7" fill="#8000ff"/>
<text x="641.6" y="793.2" class="lg">c</text>
<line x1="609.8" y1="804.4" x2="639.4" y2="804.4" stroke="#800080" stroke-width="1.4"/>
<polygon points="624.6,799.9 628.5,802.15 628.5,806.65 624.6,808.9 620.7,806.65 620.7,802.15" fill="#800080"/>
<text x="641.6" y="808.6" class="lg">k</text>
<text x="511.8" y="927" class="cap" text-anchor="middle">(f)</text>
</svg>
</body></html>
